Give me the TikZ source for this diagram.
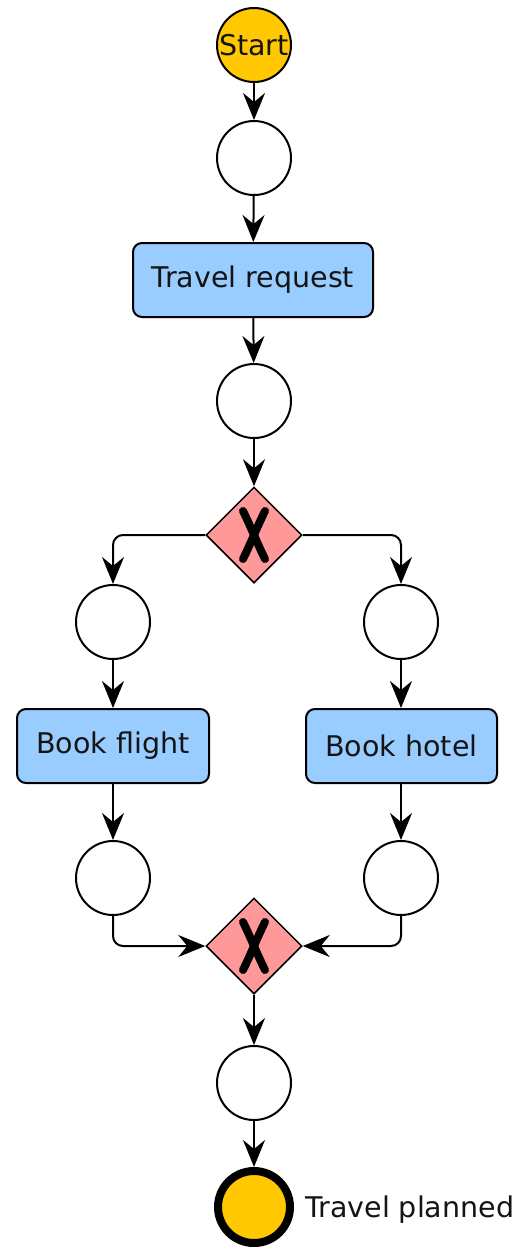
\documentclass[tikz,border=0pt]{standalone}
\usepackage{fontspec}
\setmainfont{DejaVu Sans}
\usetikzlibrary{shapes.geometric,arrows.meta}
\definecolor{evyellow}{RGB}{255,200,0}
\definecolor{taskblue}{RGB}{153,204,255}
\definecolor{gwpink}{RGB}{255,153,153}
\definecolor{txt}{RGB}{20,20,20}
\begin{document}
\begin{tikzpicture}[x=1pt,y=-1pt,
  every node/.style={font=\fontsize{28.5}{32}\selectfont, text=txt},
  place/.style={circle, draw=black, line width=2pt, fill=white, minimum size=74pt, inner sep=0pt},
  startev/.style={circle, draw=black, line width=2pt, fill=evyellow, minimum size=74pt, inner sep=0pt},
  endev/.style={circle, draw=black, line width=8pt, fill=evyellow, minimum size=72pt, inner sep=0pt},
  task/.style={rectangle, rounded corners=9pt, draw=black, line width=2pt, fill=taskblue, minimum height=74pt, inner sep=0pt},
  gw/.style={diamond, draw=black, line width=1.5pt, fill=gwpink, minimum width=96pt, minimum height=96pt, inner sep=0pt},
  flow/.style={draw=black, line width=2pt, -{Stealth[length=27pt,width=22pt,inset=9pt]}},
  xmark/.style={line width=8pt, line cap=round, black}
]
\useasboundingbox (0,0) rectangle (519,1250);

\node[startev] (start) at (254,45) {Start};
\node[place] (p1) at (254,158) {};
\node[task, minimum width=240pt] (req) at (253,280) {Travel request};
\node[place] (p2) at (254,401) {};
\node[gw] (g1) at (254,535) {};
\node[place] (pl1) at (113,622) {};
\node[place] (pr1) at (401,622) {};
\node[task, minimum width=192pt] (flight) at (113,746) {Book flight};
\node[task, minimum width=191pt] (hotel) at (401.5,746) {Book hotel};
\node[place] (pl2) at (113,878) {};
\node[place] (pr2) at (401,878) {};
\node[gw] (g2) at (254,946) {};
\node[place] (p3) at (254,1083) {};
\node[endev] (end) at (254,1207) {};
\node[anchor=west, inner sep=0pt] (endlabel) at (305,1210) {Travel planned};

% X markers
\foreach \g in {g1,g2}{
  \draw[xmark] ([shift={(-11,-24)}]\g.center) .. controls ([shift={(-3,-8)}]\g.center) and ([shift={(3,8)}]\g.center) .. ([shift={(11,24)}]\g.center);
  \draw[xmark] ([shift={(11,-24)}]\g.center) .. controls ([shift={(3,-8)}]\g.center) and ([shift={(-3,8)}]\g.center) .. ([shift={(-11,24)}]\g.center);
}

\draw[flow] (start) -- (p1);
\draw[flow] (p1) -- (req);
\draw[flow] (req) -- (p2);
\draw[flow] (p2) -- (g1);
\draw[flow, rounded corners=10pt] (g1.west) -| (pl1.north);
\draw[flow, rounded corners=10pt] (g1.east) -| (pr1.north);
\draw[flow] (pl1) -- (flight);
\draw[flow] (pr1) -- (hotel.north -| pr1);
\draw[flow] (flight) -- (pl2);
\draw[flow] (hotel.south -| pr2) -- (pr2);
\draw[flow, rounded corners=10pt] (pl2.south) |- (g2.west);
\draw[flow, rounded corners=10pt] (pr2.south) |- (g2.east);
\draw[flow] (g2) -- (p3);
\draw[flow] (p3) -- (end);
\end{tikzpicture}
\end{document}
